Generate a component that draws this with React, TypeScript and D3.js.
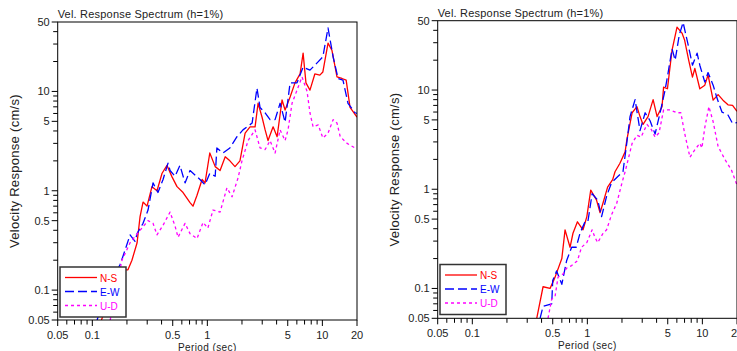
import React from "react";
import * as d3 from "d3";

// ---------- Data (period [sec], velocity [cm/s]) ----------
const leftNS: [number, number][] = [
  [0.12, 0.05], [0.14, 0.08], [0.16, 0.12], [0.18, 0.15], [0.192, 0.16], [0.204, 0.16],
  [0.221, 0.2], [0.245, 0.3], [0.26, 0.55], [0.276, 0.77], [0.299, 0.7], [0.33, 1.1],
  [0.365, 1.0], [0.404, 1.5], [0.446, 1.8], [0.493, 1.38], [0.545, 1.1], [0.615, 0.96],
  [0.707, 0.76], [0.75, 0.7], [0.813, 0.9], [0.9, 1.3], [0.955, 1.2], [1.05, 2.4],
  [1.17, 1.75], [1.29, 1.6], [1.43, 2.2], [1.57, 2.0], [1.74, 1.75], [1.92, 2.0],
  [2.13, 3.8], [2.35, 4.4], [2.6, 4.4], [2.76, 7.6], [2.99, 5.5], [3.18, 4.1],
  [3.37, 3.2], [3.73, 4.4], [4.04, 3.5], [4.46, 8.2], [4.74, 6.5], [5.24, 8.8],
  [5.78, 12.2], [6.4, 15], [6.8, 24.3], [7.2, 12.2], [7.8, 10.3], [8.6, 15],
  [9.5, 14.6], [10.1, 15.7], [11.2, 30.6], [12.1, 26], [13.4, 14], [14.8, 13.5],
  [16.1, 13], [17.4, 6.9], [20, 5.5],
];
const leftEW: [number, number][] = [
  [0.11, 0.05], [0.13, 0.09], [0.15, 0.13], [0.174, 0.18], [0.185, 0.22], [0.213, 0.36],
  [0.221, 0.34], [0.235, 0.31], [0.245, 0.37], [0.276, 0.47], [0.305, 0.64], [0.337, 1.2],
  [0.372, 0.96], [0.412, 1.3], [0.455, 1.9], [0.474, 1.6], [0.524, 1.4], [0.578, 1.8],
  [0.64, 1.2], [0.707, 1.6], [0.863, 1.3], [0.955, 1.15], [1.05, 1.5], [1.17, 1.4],
  [1.21, 2.7], [1.37, 2.4], [1.57, 2.7], [1.81, 3.5], [2.04, 4.1], [2.45, 4.8],
  [2.7, 10.8], [2.87, 6.9], [3.18, 6.1], [3.51, 5.2], [3.88, 5.2], [4.29, 7.6],
  [4.74, 4.9], [5.24, 12.2], [6.02, 12.2], [6.8, 17.6], [7.8, 16.4], [9.0, 19.4],
  [10.1, 22.3], [11.2, 43.5], [12.4, 22.3], [13.7, 13.5], [15.1, 13], [16.7, 7.6],
  [19.2, 6.1], [20, 6.0],
];
const leftUD: [number, number][] = [
  [0.143, 0.05], [0.16, 0.1], [0.181, 0.2], [0.213, 0.3], [0.26, 0.4], [0.305, 0.5],
  [0.337, 0.47], [0.365, 0.36], [0.412, 0.45], [0.474, 0.61], [0.524, 0.44], [0.556, 0.34],
  [0.64, 0.47], [0.707, 0.37], [0.813, 0.33], [0.917, 0.48], [1.01, 0.42], [1.12, 0.64],
  [1.29, 0.61], [1.48, 1.07], [1.64, 0.87], [1.85, 1.35], [2.0, 2.0], [2.26, 3.2],
  [2.6, 4.1], [2.87, 2.7], [3.18, 2.6], [3.51, 3.2], [3.88, 2.4], [4.29, 4.1],
  [4.74, 3.2], [5.03, 4.1], [5.45, 7.6], [6.02, 10.3], [6.65, 14], [7.36, 10],
  [7.8, 6.1], [8.3, 4.4], [9.2, 4.6], [10.1, 3.4], [11.2, 3.8], [12.4, 5.2],
  [13.4, 4.8], [14.3, 3.5], [16.4, 3.0], [19.2, 2.7], [20, 2.65],
];

const rightNS: [number, number][] = [
  [0.363, 0.05], [0.412, 0.104], [0.474, 0.1], [0.524, 0.13], [0.6, 0.2], [0.64, 0.39],
  [0.707, 0.26], [0.75, 0.36], [0.82, 0.47], [0.917, 0.39], [0.99, 0.53], [1.07, 0.98],
  [1.2, 0.78], [1.29, 0.58], [1.37, 0.73], [1.5, 1.05], [1.66, 1.25], [1.74, 1.5],
  [1.92, 1.83], [2.13, 2.38], [2.2, 3.1], [2.45, 5.9], [2.7, 6.8], [2.87, 5.4],
  [3.05, 4.5], [3.37, 5.4], [3.73, 8.0], [4.04, 5.4], [4.46, 6.8], [4.6, 10.7],
  [4.97, 10.3], [5.45, 25.3], [6.02, 43], [6.65, 37.5], [7.0, 32], [7.6, 20],
  [8.2, 13.5], [8.6, 16.5], [9.5, 10.3], [10.5, 11.2], [11.2, 14.2], [12.4, 7.9],
  [13.7, 9.0], [15.1, 7.9], [16.7, 7.1], [18.3, 7.0], [20, 6.1],
];
const rightEW: [number, number][] = [
  [0.388, 0.05], [0.412, 0.066], [0.49, 0.07], [0.5, 0.12], [0.54, 0.15], [0.6, 0.11],
  [0.66, 0.19], [0.73, 0.26], [0.8, 0.26], [0.863, 0.36], [0.955, 0.47], [1.01, 0.47],
  [1.1, 0.9], [1.23, 0.78], [1.33, 0.53], [1.47, 0.85], [1.62, 1.16], [1.85, 1.35],
  [2.04, 1.5], [2.2, 2.9], [2.35, 5.4], [2.6, 8.0], [2.87, 3.9], [3.18, 5.9],
  [3.51, 4.9], [3.88, 3.6], [4.29, 5.9], [4.74, 10], [5.03, 14.8], [5.45, 26],
  [5.8, 20], [6.3, 36], [6.8, 48], [7.6, 27], [8.2, 17.8], [9.0, 23.5],
  [9.5, 17.8], [10.5, 12], [11.2, 15], [12.4, 11.2], [13.4, 8.3], [14.8, 6.0],
  [16.7, 5.6], [18.3, 4.6], [20, 4.7],
];
const rightUD: [number, number][] = [
  [0.455, 0.05], [0.49, 0.078], [0.524, 0.083], [0.556, 0.13], [0.615, 0.14], [0.66, 0.16],
  [0.73, 0.17], [0.82, 0.19], [0.89, 0.26], [0.99, 0.29], [1.1, 0.39], [1.16, 0.33],
  [1.23, 0.29], [1.37, 0.36], [1.47, 0.39], [1.62, 0.55], [1.8, 0.72], [2.0, 1.16],
  [2.13, 1.5], [2.45, 2.9], [2.7, 3.5], [2.93, 3.35], [3.3, 4.5], [3.6, 4.0],
  [3.88, 3.35], [4.2, 3.7], [4.6, 6.3], [5.24, 6.3], [6.0, 5.9], [6.5, 5.9],
  [7.0, 3.7], [7.8, 2.1], [8.6, 2.5], [9.5, 2.9], [9.9, 2.6], [10.5, 4.2],
  [11.4, 6.8], [12.4, 4.8], [13.7, 2.7], [15.7, 2.0], [17.9, 1.56], [20, 1.1],
];

const xTickLabels = [0.05, 0.1, 0.5, 1, 5, 10, 20];
const yTickLabels = [0.05, 0.1, 0.5, 1, 5, 10, 50];
const legendNames = ["N-S", "E-W", "U-D"];
const titleText = "Vel. Response Spectrum (h=1%)";

const COLORS = ["#ff0000", "#0000ff", "#ff00ff"];
const DASHES = ["none", "9,4", "3,3"];
const FONT = "'Liberation Sans', Arial, sans-serif";

function minorTicks(lo: number, hi: number): number[] {
  const out: number[] = [];
  for (let e = -2; e <= 2; e++) {
    for (let m = 1; m <= 9; m++) {
      const v = +(m * Math.pow(10, e)).toPrecision(6);
      if (v >= lo * 0.999 && v <= hi * 1.001) out.push(v);
    }
  }
  return out;
}

type Props = {
  id: string;
  x0: number;
  x1: number;
  yTop: number;
  yBot: number;
  series: [number, number][][];
  legend: { x: number; y: number };
};

function Chart({ id, x0, x1, yTop, yBot, series, legend }: Props) {
  const x = d3.scaleLog().domain([0.05, 20]).range([x0, x1]);
  const y = d3.scaleLog().domain([0.05, 50]).range([yBot, yTop]);
  const line = d3
    .line<[number, number]>()
    .x((d) => x(d[0]))
    .y((d) => y(d[1]));
  const xt = minorTicks(0.05, 20);
  const yt = minorTicks(0.05, 50);
  const cx = (x0 + x1) / 2;
  const cy = (yTop + yBot) / 2;
  return (
    <g>
      <defs>
        <clipPath id={id}>
          <rect x={x0} y={yTop} width={x1 - x0} height={yBot - yTop} />
        </clipPath>
      </defs>
      <text x={x0} y={yTop - 4} fontSize={11} fontFamily={FONT} fill="#222" letterSpacing={0.2}>
        {titleText}
      </text>
      <g clipPath={`url(#${id})`}>
        {series.map((s, i) => (
          <path
            key={i}
            d={line(s) || ""}
            fill="none"
            stroke={COLORS[i]}
            strokeWidth={1.3}
            strokeDasharray={DASHES[i]}
            strokeLinejoin="round"
          />
        ))}
      </g>
      <rect x={x0} y={yTop} width={x1 - x0} height={yBot - yTop} fill="none" stroke="#000" strokeWidth={1} />
      {/* y ticks */}
      {yt.map((v) => {
        const major = yTickLabels.includes(v);
        return (
          <line key={"y" + v} x1={x0 - (major ? 6 : 4.5)} x2={x0} y1={y(v)} y2={y(v)} stroke="#000" strokeWidth={1} />
        );
      })}
      {yTickLabels.map((v) => (
        <text key={"yl" + v} x={x0 - 8} y={y(v) + 4} fontSize={11} fontFamily={FONT} textAnchor="end" fill="#222">
          {v}
        </text>
      ))}
      {/* x ticks */}
      {xt.map((v) => {
        const major = xTickLabels.includes(v);
        return (
          <line key={"x" + v} x1={x(v)} x2={x(v)} y1={yBot} y2={yBot + (major ? 6 : 4.5)} stroke="#000" strokeWidth={1} />
        );
      })}
      {xTickLabels.map((v) => (
        <text key={"xl" + v} x={x(v)} y={yBot + 19} fontSize={11} fontFamily={FONT} textAnchor="middle" fill="#222">
          {v}
        </text>
      ))}
      <text x={cx} y={yBot + 31} fontSize={10} fontFamily={FONT} textAnchor="middle" fill="#222" letterSpacing={0.4}>
        Period (sec)
      </text>
      <text
        transform={`translate(${x0 - 39},${cy}) rotate(-90)`}
        fontSize={13}
        fontFamily={FONT}
        textAnchor="middle"
        fill="#222"
        letterSpacing={0.3}
      >
        Velocity Response (cm/s)
      </text>
      {/* legend */}
      <rect x={legend.x} y={legend.y} width={66} height={50} fill="#fff" stroke="#333" strokeWidth={1.5} />
      {legendNames.map((n, i) => (
        <g key={n}>
          <line
            x1={legend.x + 5}
            x2={legend.x + 37}
            y1={legend.y + 10.5 + i * 14}
            y2={legend.y + 10.5 + i * 14}
            stroke={COLORS[i]}
            strokeWidth={1.3}
            strokeDasharray={DASHES[i]}
          />
          <text x={legend.x + 40} y={legend.y + 14.5 + i * 14} fontSize={10} fontFamily={FONT} fill={COLORS[i]}>
            {n}
          </text>
        </g>
      ))}
    </g>
  );
}

export default function App() {
  return (
    <svg
      width={737}
      height={351}
      style={{ position: "absolute", left: 0, top: 0, background: "#fff" }}
    >
      <rect x={0} y={0} width={737} height={351} fill="#fff" />
      <Chart
        id="clipL"
        x0={57.7}
        x1={357}
        yTop={22}
        yBot={320}
        series={[leftNS, leftEW, leftUD]}
        legend={{ x: 60, y: 267 }}
      />
      <Chart
        id="clipR"
        x0={437.7}
        x1={737}
        yTop={20.7}
        yBot={318.3}
        series={[rightNS, rightEW, rightUD]}
        legend={{ x: 440, y: 264.5 }}
      />
    </svg>
  );
}
